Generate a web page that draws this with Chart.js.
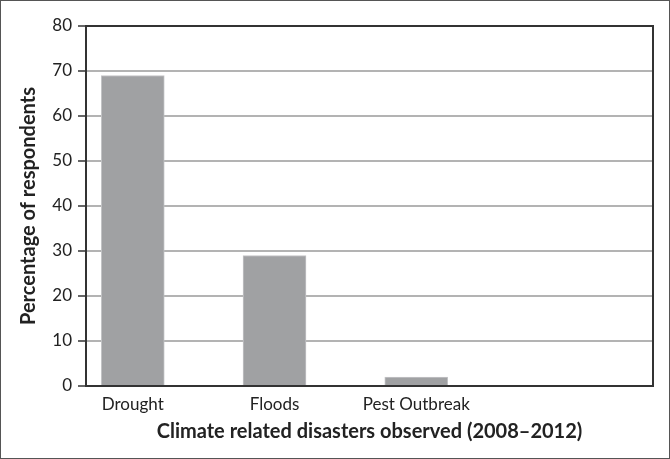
<!DOCTYPE html>
<html>
<head>
<meta charset="utf-8">
<script src="https://cdn.jsdelivr.net/npm/chart.js@4"></script>
<style>
    html, body { margin: 0; padding: 0; background: #fff; }
    #wrap {
        width: 670px;
        height: 459px;
        box-sizing: border-box;
        border: 1px solid #555;
        position: relative;
    }
    #chart { display: block; }
</style>
</head>
<body>
<div id="wrap"><canvas id="chart" width="668" height="457"></canvas></div>
<script>
var categories = ['Drought', 'Floods', 'Pest Outbreak'];
var percentages = [69, 29, 2];
var yTicks = [0, 10, 20, 30, 40, 50, 60, 70, 80];

var barGrey = '#a0a1a3';
var gridGrey = '#b3b3b3';
var frameDark = '#333333';
var tickFont = {family: 'Lato', size: 17};
var titleFont = {family: 'Lato', size: 20, weight: 'bold'};

// outline of the plot area (Excel-style frame)
var plotFrame = {
    id: 'plotFrame',
    afterDatasetsDraw: function (chart) {
        var a = chart.chartArea;
        var ctx = chart.ctx;
        ctx.save();
        ctx.strokeStyle = frameDark;
        ctx.lineWidth = 2;
        ctx.strokeRect(a.left, a.top, a.right - a.left, a.bottom - a.top);
        ctx.restore();
    }
};

var points = categories.map(function (name, i) {
    return {x: i, y: percentages[i]};
});

new Chart(document.getElementById('chart'), {
    type: 'bar',
    data: {
        datasets: [{
            data: points,
            backgroundColor: barGrey,
            borderColor: '#c4c5c7',
            borderWidth: 1,
            barThickness: 63
        }]
    },
    plugins: [plotFrame],
    options: {
        responsive: false,
        animation: false,
        layout: {padding: {left: 0, top: 25, right: 16, bottom: 0}},
        plugins: {
            legend: {display: false},
            tooltip: {enabled: false}
        },
        scales: {
            x: {
                type: 'linear',
                offset: false,
                min: -0.33,
                max: 3.67,
                afterBuildTicks: function (scale) {
                    scale.ticks = categories.map(function (c, i) { return {value: i}; });
                },
                afterFit: function (scale) { scale.height = 72; },
                grid: {display: false, drawTicks: false},
                border: {display: true, color: frameDark, width: 2},
                ticks: {
                    color: '#222',
                    font: tickFont,
                    padding: 8,
                    maxRotation: 0,
                    autoSkip: false,
                    callback: function (v) { return categories[v]; }
                },
                title: {
                    display: true,
                    text: 'Climate related disasters observed (2008\u20132012)',
                    color: '#222',
                    font: titleFont,
                    padding: {top: 0, bottom: 14}
                }
            },
            y: {
                min: 0,
                max: 80,
                afterBuildTicks: function (scale) {
                    scale.ticks = yTicks.map(function (v) { return {value: v}; });
                },
                afterFit: function (scale) { scale.width = 85; },
                grid: {
                    color: gridGrey,
                    lineWidth: 2,
                    tickColor: frameDark,
                    tickLength: 8,
                    tickWidth: 1.5
                },
                border: {display: true, color: frameDark, width: 2},
                ticks: {color: '#222', font: tickFont, padding: 6},
                title: {
                    display: true,
                    text: 'Percentage of respondents',
                    color: '#222',
                    font: titleFont,
                    padding: {top: 16, bottom: 0}
                }
            }
        }
    }
});
</script>
</body>
</html>
